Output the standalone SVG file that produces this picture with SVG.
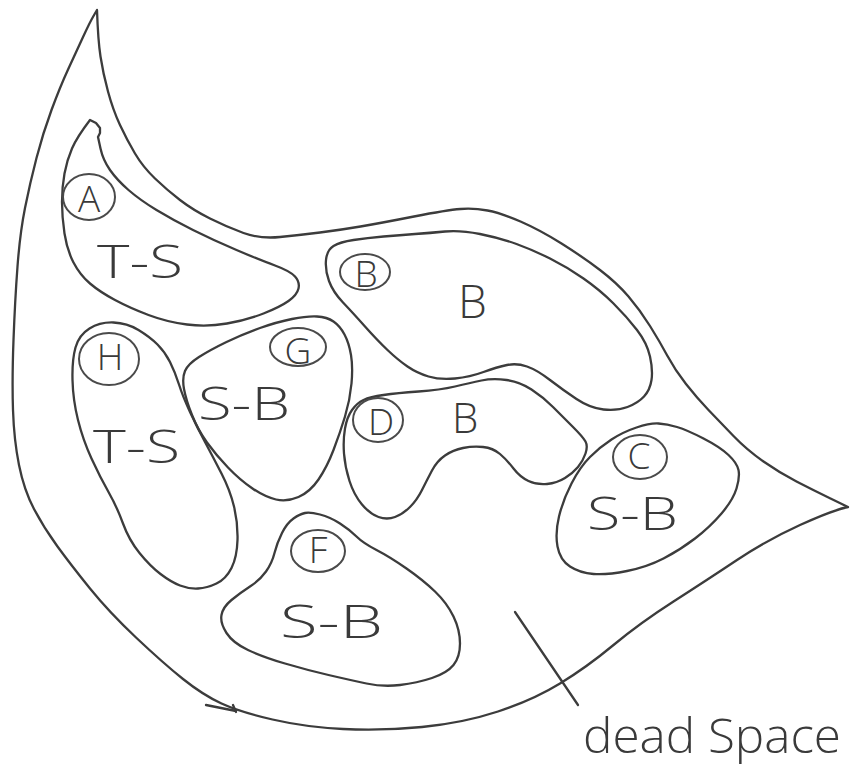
<svg xmlns="http://www.w3.org/2000/svg" width="854" height="769" viewBox="0 0 854 769">
<style>
.ln{fill:none;stroke:#3c3c3c;stroke-width:2.3;stroke-linecap:round;stroke-linejoin:round}
.lc{fill:none;stroke:#4a4a4a;stroke-width:2}
.t{font-family:"Open Sans","Liberation Sans",sans-serif;font-weight:300;fill:#3a3a3a}
.big{font-size:46px}
.sm{font-size:37px;text-anchor:middle}
</style>
<rect width="854" height="769" fill="#ffffff"/>
<g id="outer">
<path class="ln" d="M97,10 L93.5,16 Q90,22 83.5,36 Q77,50 68.5,68.5 Q60,87 51.5,110 Q43,133 36.5,158 Q30,183 25,208 Q20,233 17.5,266.5 Q15,300 13.5,340 Q12,380 13,410 Q14,440 19,465 Q24,490 34,509 Q44,528 57.5,546.5 Q71,565 90,588.5 Q109,612 136,637.5 Q163,663 183,679 Q203,695 221.5,703.5 Q240,712 272.5,719.5 Q305,727 343,729 Q381,731 422,727 Q463,723 498,711.5 Q533,700 560,683.5 Q587,667 613.5,645 Q640,623 673.5,601.5 Q707,580 737,560 Q767,540 800,525 Q833,510 848,507 L830.5,498.5 Q813,490 796.5,481.5 Q780,473 763.5,461.5 Q747,450 733.5,436 Q720,422 708.5,410 Q697,398 686,384 Q675,370 667.5,356 Q660,342 650,326 Q640,310 628.5,296.5 Q617,283 600,270 Q583,257 561.5,243.5 Q540,230 520.5,221.5 Q501,213 487.5,210.5 Q474,208 460.5,209 Q447,210 414,216.5 Q381,223 360.5,226.5 Q340,230 320,232.5 Q300,235 280,237 Q260,239 243.5,233 Q227,227 210,218.5 Q193,210 180,200 Q167,190 155,178.5 Q143,167 135,153.5 Q127,140 120,125 Q113,110 108,91.5 Q103,73 100.5,56.5 Q98,40 97,10 Z"/>
<path class="ln" d="M206,705 L236,711 M233,705 L236,712"/>
</g>
<g id="node-A">
<path class="ln" d="M90,120 L96,123 L100,128 L100,133 L98,137 L100.5,148.5 Q103,160 110,170 Q117,180 128.5,190 Q140,200 156.5,210 Q173,220 193,230 Q213,240 236.5,250 Q260,260 275,265.5 Q290,271 295,276.5 Q300,282 298.5,288.5 Q297,295 288.5,301 Q280,307 263.5,313.5 Q247,320 227,323.5 Q207,327 187,324.5 Q167,322 148.5,315 Q130,308 115,300 Q100,292 90,283.5 Q80,275 73.5,262.5 Q67,250 64.5,233.5 Q62,217 62,202 Q62,187 64.5,173.5 Q67,160 72,148.5 Q77,137 90,120 Z"/>
<ellipse class="lc" cx="89" cy="197" rx="26" ry="23"/>
<text class="t sm" x="89" y="212">A</text>
<text class="t big" x="97" y="278" textLength="86" lengthAdjust="spacingAndGlyphs">T-S</text>
</g>
<g id="node-B">
<path class="ln" d="M326,260 Q327,250 333.5,246 Q340,242 353.5,240 Q367,238 383.5,236.5 Q400,235 415,234 Q430,233 445,231.5 Q460,230 480,234 Q500,238 516.5,244 Q533,250 550,258.5 Q567,267 583.5,278.5 Q600,290 613.5,303.5 Q627,317 637,330 Q647,343 650,356.5 Q653,370 651.5,380 Q650,390 644,396.5 Q638,403 627.5,407 Q617,411 603.5,409.5 Q590,408 576.5,399 Q563,390 550,380 Q537,370 527,366.5 Q517,363 507,365 Q497,367 483.5,372 Q470,377 455,378.5 Q440,380 428.5,376.5 Q417,373 407.5,366.5 Q398,360 387.5,350 Q377,340 365,326.5 Q353,313 343,302.5 Q333,292 329,281 Q325,270 326,260 Z"/>
<ellipse class="lc" cx="365" cy="272" rx="25" ry="18"/>
<text class="t sm" x="366" y="287">B</text>
<text class="t big" x="458" y="318">B</text>
</g>
<g id="node-G">
<path class="ln" d="M292,319 Q307,316 317,316.5 Q327,317 333.5,321.5 Q340,326 344.5,334.5 Q349,343 351,355 Q353,367 351.5,383.5 Q350,400 345,416.5 Q340,433 333.5,450 Q327,467 318.5,479.5 Q310,492 298.5,497 Q287,502 276,499.5 Q265,497 252.5,488.5 Q240,480 228,467.5 Q216,455 207,442.5 Q198,430 192,415 Q186,400 184,389 Q182,378 185,371 Q188,364 199,357 Q210,350 226.5,342 Q243,334 260,328 Q277,322 292,319 Z"/>
<ellipse class="lc" cx="298" cy="347" rx="28" ry="19"/>
<text class="t sm" x="298" y="364">G</text>
<text class="t big" x="198" y="420" textLength="92" lengthAdjust="spacingAndGlyphs">S-B</text>
</g>
<g id="node-H">
<path class="ln" d="M89.5,328.5 Q100,322 113.5,322.5 Q127,323 138.5,330 Q150,337 157.5,344.5 Q165,352 170,362 Q175,372 179,384.5 Q183,397 190,412 Q197,427 205,442 Q213,457 221.5,473.5 Q230,490 234,506.5 Q238,523 237.5,540 Q237,557 231.5,568 Q226,579 216.5,583.5 Q207,588 198,588.5 Q189,589 180,585.5 Q171,582 160.5,574 Q150,566 139.5,553 Q129,540 123,523.5 Q117,507 108.5,492 Q100,477 91.5,458.5 Q83,440 78,420 Q73,400 72.5,380 Q72,360 75.5,347.5 Q79,335 89.5,328.5 Z"/>
<ellipse class="lc" cx="109" cy="359" rx="30" ry="26"/>
<text class="t sm" x="110" y="370">H</text>
<text class="t big" x="93" y="463" textLength="87" lengthAdjust="spacingAndGlyphs">T-S</text>
</g>
<g id="node-D">
<path class="ln" d="M363.5,400 Q370,397 383.5,395 Q397,393 418.5,391.5 Q440,390 455,386.5 Q470,383 481.5,380.5 Q493,378 506.5,380 Q520,382 531.5,389.5 Q543,397 553,407 Q563,417 573,427 Q583,437 585.5,441.5 Q588,446 585.5,453.5 Q583,461 578,467 Q573,473 565,478 Q557,483 547,484 Q537,485 528.5,481 Q520,477 513.5,468.5 Q507,460 500,454 Q493,448 483,447 Q473,446 463,448 Q453,450 445,455.5 Q437,461 432,470.5 Q427,480 422,490 Q417,500 410,507 Q403,514 395,517 Q387,520 378.5,517 Q370,514 362,504.5 Q354,495 349.5,481 Q345,467 344,453.5 Q343,440 345,428.5 Q347,417 352,410 Q357,403 363.5,400 Z"/>
<ellipse class="lc" cx="378" cy="420" rx="25" ry="22"/>
<text class="t sm" x="381" y="435">D</text>
<text class="t" style="font-size:42px" x="452" y="433">B</text>
</g>
<g id="node-C">
<path class="ln" d="M658.5,423.5 Q650,423 636.5,427.5 Q623,432 611.5,439.5 Q600,447 590,457 Q580,467 571.5,483.5 Q563,500 559,516.5 Q555,533 557.5,546.5 Q560,560 570,566.5 Q580,573 593.5,574 Q607,575 627,571 Q647,567 663.5,558.5 Q680,550 695,538.5 Q710,527 721.5,513.5 Q733,500 736.5,488.5 Q740,477 738.5,470 Q737,463 728.5,455 Q720,447 703.5,438.5 Q687,430 677,427 Q667,424 658.5,423.5 Z"/>
<ellipse class="lc" cx="640" cy="457" rx="27" ry="22"/>
<text class="t sm" x="639" y="469">C</text>
<text class="t big" x="587" y="530" textLength="91" lengthAdjust="spacingAndGlyphs">S-B</text>
</g>
<g id="node-F">
<path class="ln" d="M305,513 Q310,512 320,514.5 Q330,517 340,523.5 Q350,530 356.5,536.5 Q363,543 376.5,550 Q390,557 406.5,568.5 Q423,580 435,591.5 Q447,603 453.5,616.5 Q460,630 460,643.5 Q460,657 453.5,665 Q447,673 432,678 Q417,683 400,685 Q383,687 366.5,683.5 Q350,680 328.5,675 Q307,670 285,663.5 Q263,657 248,650 Q233,643 226.5,633 Q220,623 221.5,615 Q223,607 231.5,600 Q240,593 250,586.5 Q260,580 266,571.5 Q272,563 274.5,553 Q277,543 282,533 Q287,523 293.5,518.5 Q300,514 305,513 Z"/>
<ellipse class="lc" cx="318" cy="551" rx="27" ry="21"/>
<text class="t sm" x="318" y="563">F</text>
<text class="t big" x="280" y="638" textLength="103" lengthAdjust="spacingAndGlyphs">S-B</text>
</g>
<g id="connectors">
<line class="ln" x1="515" y1="612" x2="578" y2="705"/>
</g>
<g id="label-dead-space">
<text class="t" style="font-size:48px" x="583" y="753" textLength="258" lengthAdjust="spacingAndGlyphs">dead Space</text>
</g>
</svg>
